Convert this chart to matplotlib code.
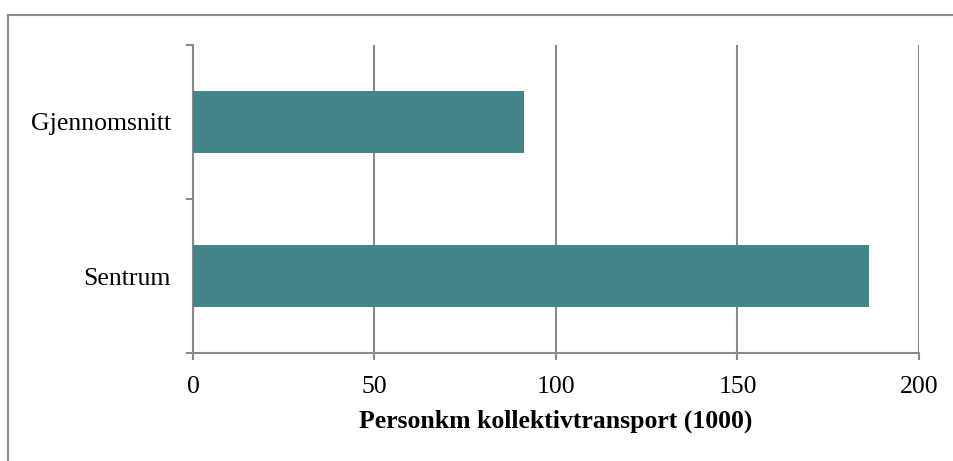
import matplotlib.pyplot as plt
from matplotlib.patches import Rectangle

categories = ['Sentrum', 'Gjennomsnitt']
values = [186.3, 91.2]
xticks = [0, 50, 100, 150, 200]

bar_color = '#428689'
line_color = '#8a8a8a'

plt.rcParams['font.family'] = ['Liberation Serif', 'DejaVu Serif']

fig = plt.figure(figsize=(9.54, 4.61), dpi=100)
ax = fig.add_axes([0.2023, 0.2336, 0.7610, 0.6694])

# outer frame, cropped at right and bottom like the original
fig.patches.append(Rectangle((8.5 / 954, -0.05), 1.0, (461 - 15) / 461 + 0.05,
                             transform=fig.transFigure, fill=False,
                             edgecolor=line_color, linewidth=1.5))

ypos = list(range(len(categories)))
ax.barh(ypos, values, height=0.4, color=bar_color, zorder=3)

ax.set_xlim(0, 200)
ax.set_ylim(-0.5, len(categories) - 0.5)
ax.set_xticks(xticks)
ax.set_xticklabels([str(t) for t in xticks], fontsize=18.5)
ax.grid(axis='x', color=line_color, linewidth=1.5, zorder=0)

# category separators as major ticks, labels as minor ticks
ax.set_yticks([-0.5, 0.5, 1.5])
ax.set_yticklabels([])
ax.set_yticks(ypos, minor=True)
ax.set_yticklabels(categories, minor=True, fontsize=18.5)
ax.tick_params(axis='y', which='major', length=5, width=1.5, color=line_color)
ax.tick_params(axis='y', which='minor', length=0, pad=16)
ax.tick_params(axis='x', length=5, width=1.5, color=line_color, pad=11)

for side in ['top', 'right']:
    ax.spines[side].set_visible(False)
for side in ['left', 'bottom']:
    ax.spines[side].set_color(line_color)
    ax.spines[side].set_linewidth(1.5)

ax.set_xlabel('Personkm kollektivtransport (1000)', fontsize=18.5,
              fontweight='bold', labelpad=9)

fig.savefig('out.png', dpi=100)
